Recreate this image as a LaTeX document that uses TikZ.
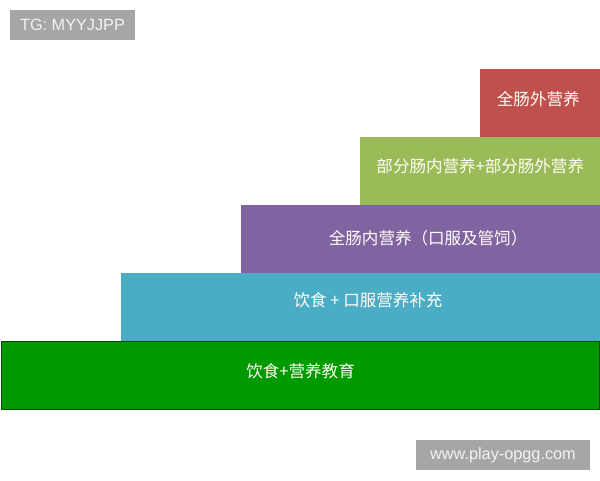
\documentclass[tikz,border=0pt]{standalone}
\usepackage{fontspec}
\setmainfont{Liberation Sans}
\newfontfamily\cjk{Noto Sans CJK SC}
\usepackage{tikz}
\definecolor{tpnred}{RGB}{192,80,77}
\definecolor{enolive}{RGB}{155,187,89}
\definecolor{enpurple}{RGB}{128,100,162}
\definecolor{onsblue}{RGB}{75,172,198}
\definecolor{edugreen}{RGB}{0,153,0}
\definecolor{edudark}{RGB}{0,77,0}
\definecolor{taggray}{RGB}{166,166,166}
\tikzset{
  bar/.style={rectangle, inner sep=0pt, anchor=north west, minimum height=51pt,
    text=white!96!yellow, font=\cjk\fontsize{12.4}{14}\selectfont, text height=10pt},
  liftby/.style={text depth=2pt+2*#1},
  tag/.style={rectangle, inner sep=0pt, minimum height=22.5pt, fill=taggray,
    text=white!95!black, font=\fontsize{12.2}{14}\selectfont}
}

\begin{document}
\begin{tikzpicture}[x=0.75pt,y=-0.75pt]
\useasboundingbox (0,0) rectangle (600,480);
% --- Staircase of nutrition steps ---
\node[bar, liftby=2.25pt, fill=tpnred, minimum width=90pt] (tpn) at (480,69) {全肠外营养\hspace*{3pt}};
\node[bar, liftby=3pt, fill=enolive, minimum width=180pt] (pen) at (360,137) {部分肠内营养+部分肠外营养};
\node[bar, liftby=0pt, fill=enpurple, minimum width=269.25pt] (ten) at (241,205) {\hspace*{11pt}全肠内营养（口服及管饲）};
\node[bar, liftby=4.5pt, fill=onsblue, minimum width=359.25pt] (ons) at (121,273) {\hspace*{11pt}饮食 + 口服营养补充};
\node[bar, liftby=2.25pt, fill=edugreen, draw=edudark, line width=0.9pt, minimum width=448.5pt] (edu) at (1,341) {饮食+营养教育};
% --- Grey tags ---
\node[tag, minimum width=93.75pt] (tg) at (72.5,25) {TG: MYYJJPP};
\node[tag, minimum width=130.5pt] (web) at (503,455) {www.play-opgg.com};
\end{tikzpicture}
\end{document}
